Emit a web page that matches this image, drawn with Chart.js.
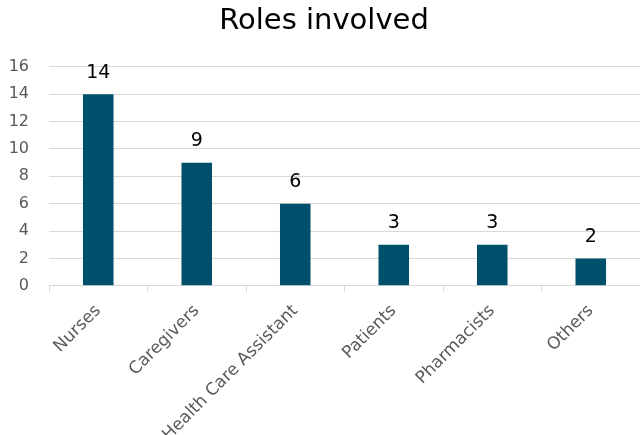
<!DOCTYPE html>
<html>
<head>
<meta charset="utf-8">
<script src="https://cdn.jsdelivr.net/npm/chart.js@4"></script>
<style>
  html, body { margin: 0; padding: 0; background: #fff; }
  #wrap { width: 640px; height: 435px; position: relative; }
</style>
</head>
<body>
<div id="wrap"><canvas id="myChart"></canvas></div>
<script>
const roles = ['Nurses', 'Caregivers', 'Health Care Assistant', 'Patients', 'Pharmacists', 'Others'];
const counts = [14, 9, 6, 3, 3, 2];
const yTicks = [0, 2, 4, 6, 8, 10, 12, 14, 16];

// value labels above each bar
const valueLabels = {
  id: 'valueLabels',
  afterDatasetsDraw(chart) {
    const { ctx } = chart;
    const meta = chart.getDatasetMeta(0);
    ctx.save();
    ctx.font = '19px "DejaVu Sans"';
    ctx.fillStyle = '#000';
    ctx.textAlign = 'center';
    ctx.textBaseline = 'bottom';
    meta.data.forEach((bar, i) => {
      ctx.fillText(String(counts[i]), bar.x, bar.y - 12);
    });
    ctx.restore();
  },
};

const config = {
  type: 'bar',
  data: {
    labels: roles,
    datasets: [
      {
        label: 'Roles',
        data: counts,
        backgroundColor: '#004f6b',
        barPercentage: 0.31,
        categoryPercentage: 1,
      },
    ],
  },
  options: {
    responsive: true,
    maintainAspectRatio: false,
    animation: false,
    layout: {
      padding: { left: 8, right: 0, top: 0, bottom: 0 },
    },
    plugins: {
      legend: { display: false },
      tooltip: { enabled: false },
      title: {
        display: true,
        text: 'Roles involved',
        color: '#000',
        font: { family: 'DejaVu Sans', size: 29, weight: 'normal' },
        padding: { top: 4, bottom: 28 },
      },
    },
    scales: {
      x: {
        offset: true,
        grid: {
          offset: true,
          drawOnChartArea: false,
          color: '#d9d9d9',
          tickLength: 6,
        },
        border: { color: '#d9d9d9' },
        ticks: {
          color: '#595959',
          font: { family: 'DejaVu Sans', size: 17 },
          minRotation: 45,
          maxRotation: 45,
          padding: 9,
        },
        afterFit(scale) {
          scale.paddingLeft = 0;
          scale.paddingRight = 0;
          // the longest label runs off the bottom edge in the original
          scale.height -= 19;
        },
      },
      y: {
        min: 0,
        max: 16,
        afterBuildTicks(axis) {
          axis.ticks = yTicks.map((v) => ({ value: v }));
        },
        afterFit(scale) {
          scale.width = 41;
        },
        grid: {
          color: '#d9d9d9',
          drawTicks: false,
        },
        border: { display: false },
        ticks: {
          color: '#595959',
          font: { family: 'DejaVu Sans', size: 16 },
          padding: 20,
        },
      },
    },
  },
  plugins: [valueLabels],
};

const myChart = new Chart(document.getElementById('myChart'), config);
</script>
</body>
</html>
